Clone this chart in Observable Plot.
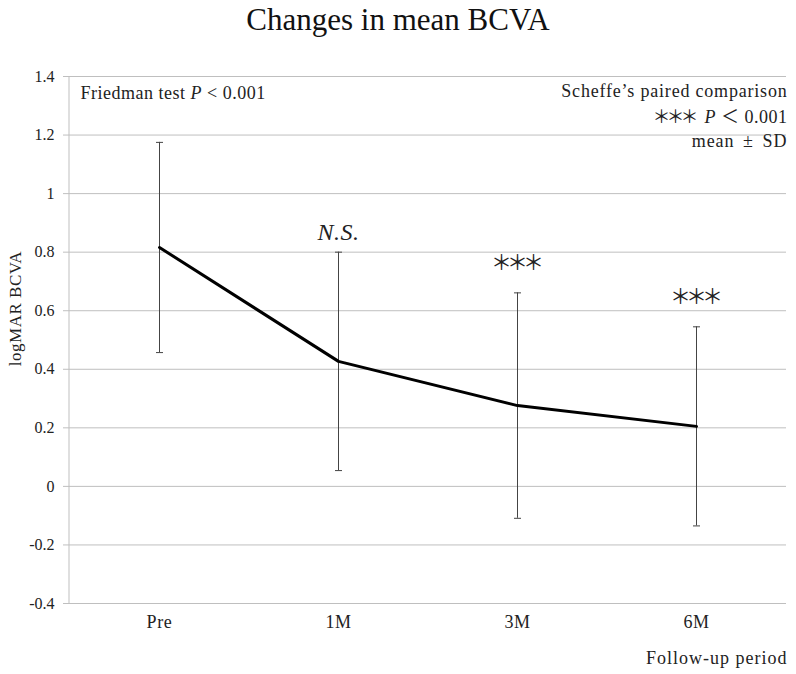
<!DOCTYPE html>
<html><head><meta charset="utf-8">
<script src="https://cdn.jsdelivr.net/npm/d3@7"></script>
<script src="https://cdn.jsdelivr.net/npm/@observablehq/plot@0.6"></script>
<style>
body{margin:0;background:#fff;}
#title{font-family:"Liberation Serif",serif;font-size:31px;line-height:40px;height:40px;text-align:center;color:#111;}
#chart svg{font-family:"Liberation Serif","Noto Sans CJK JP",serif !important;}
#chart g[aria-label="text"] text{letter-spacing:0.5px;}
#chart g[aria-label="x-axis tick label"] text{letter-spacing:0.6px;}
#chart g[aria-label="y-axis tick"]{stroke:#bfbfbf;}
#chart .stars{font-family:"Noto Sans CJK JP",sans-serif;}
</style></head><body>
<div id="title">Changes in mean BCVA</div>
<div id="chart"></div>
<script>
const periods = ["Pre", "1M", "3M", "6M"];
const meanBCVA = [0.816, 0.427, 0.276, 0.205];
const sdBCVA = [0.359, 0.373, 0.385, 0.340];
const sigLabels = ["", "N.S.", "＊＊＊", "＊＊＊"];
const yTicks = [-0.4, -0.2, 0, 0.2, 0.4, 0.6, 0.8, 1.0, 1.2, 1.4];
const yLabel = "logMAR BCVA";
const xLabel = "Follow-up period";
const noteLeft = "Friedman test P < 0.001";
const noteRight = ["Scheffe’s paired comparison", "＊＊＊ P ＜ 0.001", "mean ± SD"];

const data = periods.map((p, i) => ({
  period: p, mean: meanBCVA[i],
  lo: meanBCVA[i] - sdBCVA[i], hi: meanBCVA[i] + sdBCVA[i],
  sig: sigLabels[i]
}));

const capSymbol = {draw(ctx, size) {const r = Math.sqrt(size / Math.PI); ctx.moveTo(-r, 0); ctx.lineTo(r, 0);}};
const W = 796, H = 634, mL = 69, mR = 10, mT = 36, mB = 71;

const plot = Plot.plot({
  width: W, height: H, marginLeft: mL, marginRight: mR, marginTop: mT, marginBottom: mB,
  style: {fontSize: "16px", color: "#222", background: "#fff"},
  x: {type: "point", domain: periods, padding: 0.5, label: null},
  y: {domain: [-0.4, 1.4], label: null},
  marks: [
    Plot.gridY(yTicks, {stroke: "#bfbfbf", strokeOpacity: 1}),
    Plot.axisY(yTicks, {tickSize: 6, tickPadding: 9, fontSize: 16, tickFormat: d => String(Math.round(d * 10) / 10), label: null}),
    Plot.axisX({tickSize: 0, tickPadding: 12, fontSize: 18, label: null}),
    Plot.ruleX(data, {x: "period", y1: "lo", y2: "hi", stroke: "#444", strokeWidth: 1}),
    Plot.dot(data, {x: "period", y: "hi", symbol: capSymbol, r: 3.5, stroke: "#444", strokeWidth: 1, fill: "none"}),
    Plot.dot(data, {x: "period", y: "lo", symbol: capSymbol, r: 3.5, stroke: "#444", strokeWidth: 1, fill: "none"}),
    Plot.line(data, {x: "period", y: "mean", stroke: "#000", strokeWidth: 3}),
    Plot.text(data.filter(d => d.sig === "N.S."), {x: "period", y: "hi", text: "sig", fontStyle: "italic", fontSize: 24, lineAnchor: "top", dy: -29}),
    Plot.text(data.filter(d => d.sig.includes("＊")), {x: "period", y: "hi", text: "sig", fontSize: 21, lineAnchor: "top", dx: -2.5, dy: -38}),
    Plot.text([yLabel], {frameAnchor: "left", textAnchor: "middle", rotate: -90, dx: -54, dy: -31.5, fontSize: 17}),
    Plot.text([noteLeft], {frameAnchor: "top-left", textAnchor: "start", lineAnchor: "top", dx: 11, dy: 10, fontSize: 18}),
    Plot.text([noteRight[0]], {frameAnchor: "top-right", textAnchor: "end", lineAnchor: "top", dx: 1, dy: 8, fontSize: 18}),
    Plot.text([noteRight[1]], {frameAnchor: "top-right", textAnchor: "end", lineAnchor: "top", dx: 1, dy: 34, fontSize: 18}),
    Plot.text([noteRight[2]], {frameAnchor: "top-right", textAnchor: "end", lineAnchor: "top", dx: 1, dy: 58, fontSize: 18}),
    Plot.text([xLabel], {frameAnchor: "bottom-right", textAnchor: "end", lineAnchor: "top", dx: 1, dy: 48, fontSize: 18})
  ]
});

// left axis line along the frame edge
d3.select(plot).insert("line", "g")
  .attr("x1", mL).attr("x2", mL).attr("y1", mT).attr("y2", H - mB)
  .attr("stroke", "#bfbfbf");

const NS = "http://www.w3.org/2000/svg";
plot.querySelectorAll("text").forEach(t => {
  const s = t.textContent;
  if (t.children.length) return;
  if (/^＊+$/.test(s)) {
    t.setAttribute("class", "stars");
    t.style.letterSpacing = "-5px";
    return;
  }
  if (s === noteRight[0]) { t.style.letterSpacing = "0.8px"; return; }
  if (s === noteRight[2]) { t.style.letterSpacing = "1px"; t.style.wordSpacing = "3px"; return; }
  if (s === xLabel) { t.style.letterSpacing = "1px"; return; }
  const idx = s.indexOf(" P ");
  if (idx < 0) return;
  const before = s.slice(0, idx + 1), after = s.slice(idx + 2);
  t.textContent = "";
  const starMatch = before.match(/^(＊+)(.*)$/);
  if (starMatch) {
    const st = document.createElementNS(NS, "tspan");
    st.setAttribute("class", "stars");
    st.setAttribute("font-size", "18px");
    st.style.letterSpacing = "-4px";
    st.textContent = starMatch[1];
    t.appendChild(st);
    const sp = document.createElementNS(NS, "tspan");
    sp.setAttribute("dx", "5");
    sp.textContent = starMatch[2];
    t.appendChild(sp);
  } else {
    t.appendChild(document.createTextNode(before));
  }
  const p = document.createElementNS(NS, "tspan");
  p.setAttribute("font-style", "italic");
  p.textContent = "P";
  t.appendChild(p);
  t.appendChild(document.createTextNode(after));
});

document.getElementById("chart").appendChild(plot);
</script>
</body></html>
